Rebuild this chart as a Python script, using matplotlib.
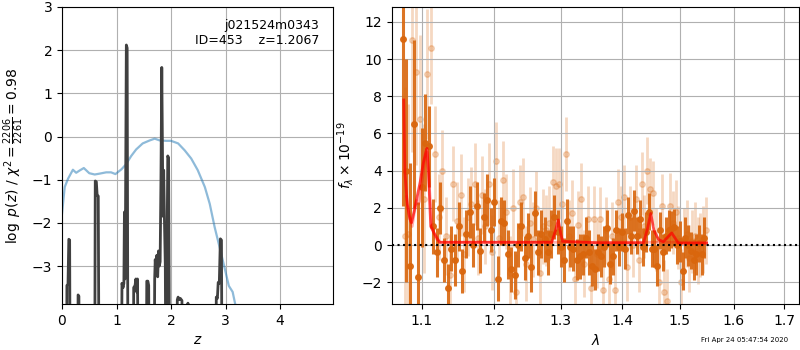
import matplotlib
matplotlib.use("Agg")
import matplotlib.pyplot as plt
from matplotlib.ticker import FixedLocator, FixedFormatter, NullLocator

# --- p(z) panel ---
pz_z = [0.00, 0.085, 0.09, 0.11, 0.125, 0.14, 0.15, 0.29, 0.295, 0.31, 0.315,
        0.60, 0.61, 0.63, 0.645, 0.665, 0.68,
        1.09, 1.10, 1.12, 1.135, 1.145, 1.155, 1.165, 1.18, 1.195, 1.21,
        1.31, 1.315, 1.34, 1.355, 1.37, 1.385, 1.40,
        1.545, 1.555, 1.575, 1.59, 1.60,
        1.69, 1.70, 1.71, 1.725, 1.74, 1.755, 1.77, 1.785, 1.80, 1.815, 1.83,
        1.845, 1.855, 1.865, 1.88, 1.895, 1.905, 1.925, 1.94, 1.955, 1.975,
        2.10, 2.115, 2.13, 2.15, 2.17, 2.20, 2.215, 2.305, 2.31, 2.315,
        2.82, 2.83, 2.85, 2.865, 2.885, 2.905, 2.925, 2.935, 4.97]
pz_log = [-6, -6, -3.45, -3.42, -2.38, -2.40, -6, -6, -3.67, -3.70, -6,
          -6, -1.03, -1.05, -1.37, -1.38, -6,
          -6, -3.40, -3.50, -3.40, -1.75, -3.30, -1.80, 2.12, 2.05, -6,
          -6, -3.50, -3.45, -3.30, -3.60, -3.30, -6,
          -6, -3.35, -3.35, -3.45, -6,
          -6, -3.30, -2.85, -3.20, -2.75, -3.25, -2.65, -3.00, -2.90, -1.00, 1.60,
          -0.70, -1.85, -0.78, -2.00, -3.00, -6, -3.00, -0.45, -0.50, -6,
          -6, -3.78, -3.72, -3.78, -3.75, -3.80, -6, -6, -3.86, -6,
          -6, -3.72, -3.75, -3.38, -3.40, -2.37, -2.40, -6, -6]

chi_z = [0.00, 0.05, 0.11, 0.20, 0.26, 0.32, 0.40, 0.50, 0.60, 0.69, 0.81, 0.90,
         0.98, 1.09, 1.17, 1.27, 1.36, 1.48, 1.61, 1.70, 1.79, 1.91, 2.00, 2.13,
         2.25, 2.37, 2.49, 2.62, 2.71, 2.80, 2.89, 2.98, 3.06, 3.13, 3.18, 3.25]
chi_val = [-1.79, -1.17, -0.98, -0.77, -0.84, -0.79, -0.73, -0.85, -0.88, -0.86,
           -0.83, -0.83, -0.87, -0.76, -0.65, -0.45, -0.30, -0.16, -0.09, -0.05,
           -0.09, -0.10, -0.10, -0.16, -0.32, -0.51, -0.78, -1.17, -1.56, -2.10,
           -2.56, -3.03, -3.46, -3.60, -3.90, -4.50]

# --- spectrum panel, orient A (dark) ---
wave_a = [1.075, 1.080, 1.085, 1.090, 1.095, 1.100, 1.105, 1.110, 1.115, 1.120,
          1.125, 1.130, 1.135, 1.140, 1.145, 1.150, 1.155, 1.160, 1.165, 1.170,
          1.175, 1.180, 1.185, 1.190, 1.195, 1.200, 1.205, 1.210, 1.215, 1.220,
          1.225, 1.230, 1.235, 1.240, 1.245, 1.250, 1.255, 1.260, 1.265, 1.270,
          1.275, 1.280, 1.285, 1.290, 1.295, 1.300, 1.305, 1.310, 1.315, 1.320,
          1.325, 1.330, 1.335, 1.340, 1.345, 1.350, 1.355, 1.360, 1.365, 1.370,
          1.375, 1.380, 1.385, 1.390, 1.395, 1.400, 1.405, 1.410, 1.415, 1.420,
          1.425, 1.430, 1.435, 1.440, 1.445, 1.450, 1.455, 1.460, 1.465, 1.470,
          1.475, 1.480, 1.485, 1.490, 1.495, 1.500, 1.505, 1.510, 1.515, 1.520,
          1.525, 1.530, 1.535, 1.540, 1.545]
flux_a = [11.1, 4.0, -1.1, 6.5, -1.7, 3.1, 5.5, 5.3, 1.0, -0.4,
          2.0, -0.8, -2.3, -0.2, -0.8, 1.0, -1.4, 0.6, 1.8, 0.0,
          2.1, -0.3, 1.5, 2.4, 0.8, 2.3, -1.8, 1.3, 1.2, -0.5,
          -1.3, -1.6, 0.0, 1.0, -0.7, 0.5, -1.2, 1.7, -0.4, 0.6,
          0.3, -0.4, 0.6, 1.5, 0.7, -0.1, -0.8, 1.3, -0.1, -0.2,
          -0.8, -0.6, -0.5, 0.4, -0.4, -1.1, -1.3, -0.4, -0.6, -0.1,
          0.9, -1.0, -0.6, 0.8, -0.1, 0.7, -0.2, 1.6, 0.5, 1.85,
          0.5, 1.4, -0.1, 0.7, 1.8, -0.2, -0.2, -1.1, 0.8, -0.4,
          0.5, 0.8, 0.85, 0.95, 0.0, 0.2, -1.4, 0.4, 0.0, -0.3,
          -0.8, -0.5, 0.1, -0.5, 0.4]
err_a = [9.0, 6.0, 5.5, 4.5, 4.0, 3.2, 2.6, 2.2, 1.5, 1.3,
         1.4, 1.2, 1.3, 1.2, 1.4, 1.3, 1.2, 1.3, 1.4, 1.2,
         1.3, 1.2, 1.3, 1.4, 1.2, 1.3, 1.2, 1.3, 1.2, 1.3,
         1.2, 1.3, 1.2, 1.3, 1.2, 1.2, 1.3, 1.2, 1.2, 1.3,
         1.2, 1.2, 1.3, 1.2, 1.2, 1.1, 1.2, 1.2, 1.1, 1.2,
         1.1, 1.2, 1.1, 1.1, 1.2, 1.1, 1.1, 1.0, 1.1, 1.1,
         1.0, 1.1, 1.0, 1.1, 1.0, 1.0, 1.1, 1.0, 1.0, 1.1,
         1.0, 1.0, 1.0, 1.1, 1.0, 1.0, 1.0, 1.1, 1.0, 1.0,
         1.0, 1.1, 1.0, 1.0, 1.0, 1.1, 1.0, 1.1, 1.1, 1.0,
         1.1, 1.1, 1.0, 1.1, 1.1]

# --- spectrum panel, orient B (light) ---
wave_b = [1.0775, 1.0825, 1.0875, 1.0925, 1.0975, 1.1025, 1.1075, 1.1125, 1.1175, 1.1225,
          1.1275, 1.1325, 1.1375, 1.1425, 1.1475, 1.1525, 1.1575, 1.1625, 1.1675, 1.1725,
          1.1775, 1.1825, 1.1875, 1.1925, 1.1975, 1.2025, 1.2075, 1.2125, 1.2175, 1.2225,
          1.2275, 1.2325, 1.2375, 1.2425, 1.2475, 1.2525, 1.2575, 1.2625, 1.2675, 1.2725,
          1.2775, 1.2825, 1.2875, 1.2925, 1.2975, 1.3025, 1.3075, 1.3125, 1.3175, 1.3225,
          1.3275, 1.3325, 1.3375, 1.3425, 1.3475, 1.3525, 1.3575, 1.3625, 1.3675, 1.3725,
          1.3775, 1.3825, 1.3875, 1.3925, 1.3975, 1.4025, 1.4075, 1.4125, 1.4175, 1.4225,
          1.4275, 1.4325, 1.4375, 1.4425, 1.4475, 1.4525, 1.4575, 1.4625, 1.4675, 1.4725,
          1.4775, 1.4825, 1.4875, 1.4925, 1.4975, 1.5025, 1.5075, 1.5125, 1.5175, 1.5225,
          1.5275, 1.5325, 1.5375, 1.5425, 1.5475]
flux_b = [0.5, 0.6, 11.0, 9.3, 6.8, 2.5, 9.2, 10.6, 4.9, 1.5,
          4.0, 0.5, -1.6, 3.3, 1.3, 2.7, -0.5, 1.5, 2.2, 3.3,
          0.4, 2.7, 1.0, 3.3, -0.4, 4.5, 0.4, 3.5, 1.8, -1.5,
          2.0, -2.5, 2.3, 2.6, -1.0, 1.2, 0.3, 2.0, -1.5, 1.0,
          0.8, 1.2, 3.4, 3.2, 3.3, 2.2, 4.9, 0.5, 1.7, -1.8,
          1.1, 2.5, -1.0, 1.4, -2.3, 1.4, -0.5, 1.4, -2.4, 0.8,
          -1.8, 0.5, -2.4, 2.3, 1.5, 2.6, -1.2, 1.5, 0.0, 2.5,
          -0.8, 3.3, 1.0, 4.0, 3.0, 2.8, 0.3, -2.0, 2.1, -2.5,
          -3.0, 2.1, 1.2, 1.8, 0.4, -2.0, 0.3, 0.6, -0.7, 0.2,
          0.5, -0.3, 0.0, 0.3, 0.8]
err_b = [8.0, 7.0, 6.0, 5.0, 4.5, 4.0, 3.5, 3.0, 2.6, 2.3,
         2.2, 2.1, 2.2, 2.0, 2.1, 2.2, 2.0, 2.1, 2.0, 2.2,
         2.0, 2.1, 2.0, 2.2, 2.0, 2.1, 2.0, 2.1, 2.0, 2.0,
         2.1, 2.0, 2.0, 2.1, 2.0, 1.9, 2.0, 2.0, 1.9, 2.0,
         1.9, 2.0, 1.9, 2.0, 1.9, 1.9, 2.0, 1.9, 1.8, 1.9,
         1.8, 1.9, 1.8, 1.8, 1.9, 1.8, 1.8, 1.7, 1.8, 1.8,
         1.7, 1.8, 1.7, 1.8, 1.7, 1.7, 1.8, 1.7, 1.7, 1.8,
         1.7, 1.7, 1.7, 1.8, 1.7, 1.7, 1.7, 1.8, 1.7, 1.7,
         1.7, 1.8, 1.7, 1.7, 1.7, 1.8, 1.7, 1.8, 1.8, 1.7,
         1.8, 1.8, 1.7, 1.8, 1.8]

# --- best-fit models ---
model_wave_a = [1.0765, 1.078, 1.081, 1.0845, 1.0866, 1.090, 1.094, 1.098, 1.102,
                1.1055, 1.107, 1.109, 1.1105, 1.112, 1.117, 1.124, 1.200, 1.286,
                1.292, 1.2962, 1.300, 1.303, 1.360, 1.436, 1.443, 1.4485, 1.454,
                1.462, 1.4706, 1.479, 1.4855, 1.492, 1.4974, 1.549]
model_a = [7.8, 3.9, 2.2, 1.4, 1.2, 1.8, 2.6, 3.4, 4.4,
           5.0, 5.2, 4.0, 2.4, 1.0, 0.6, 0.15, 0.15, 0.15,
           0.8, 1.35, 0.6, 0.2, 0.12, 0.12, 0.9, 1.7, 0.8,
           0.3, 0.18, 0.45, 0.65, 0.35, 0.1, 0.1]
model_wave_b = [1.080, 1.084, 1.0875, 1.0905, 1.093, 1.096, 1.100, 1.104, 1.107,
                1.110, 1.114, 1.118, 1.124, 1.549]
model_b = [2.6, 1.5, 1.0, 1.8, 2.4, 2.2, 3.2, 4.6, 5.0, 3.2, 1.0, 0.4, 0.15, 0.15]

lam_ticks = [1.1, 1.2, 1.3, 1.4, 1.5, 1.6, 1.7]

ORANGE = (0.85, 0.40, 0.05)

fig = plt.figure(figsize=(8, 3.5), dpi=100)

# p(z)
ax = fig.add_axes([0.0775, 0.1314, 0.3387, 0.8486])
ax.plot(chi_z, chi_val, color='#1f77b4', alpha=0.5, lw=1.6, zorder=2)
ax.plot(pz_z, pz_log, color='0.25', lw=2, zorder=3)
ax.set_xlim(0, 4.97)
ax.set_ylim(-3.88, 3)
ax.set_xticks([0, 1, 2, 3, 4])
ax.set_yticks([-3, -2, -1, 0, 1, 2, 3])
ax.grid(True, zorder=0)
ax.set_xlabel(r'$z$')
ax.set_ylabel(r'$\log\ p(z)$' + ' / ' + r'$\chi^2=\frac{2206}{2261}=0.98$')
ax.text(0.95, 0.96, 'j021524m0343\nID=453    z=1.2067', ha='right', va='top',
        transform=ax.transAxes, fontsize=9)

# spectrum
axs = fig.add_axes([0.4896, 0.1314, 0.5092, 0.8486])
axs.errorbar(wave_b, flux_b, yerr=err_b, color=ORANGE, alpha=0.25, marker='o',
             ms=4, linestyle='None', elinewidth=2, zorder=1)
axs.errorbar(wave_a, flux_a, yerr=err_a, color=ORANGE, alpha=0.9, marker='o',
             ms=4, linestyle='None', elinewidth=2.2, zorder=2)
axs.plot(model_wave_b, model_b, color='r', alpha=0.3, lw=2, zorder=3)
axs.plot(model_wave_a, model_a, color='r', alpha=0.7, lw=2, zorder=4)
axs.axhline(0, color='k', linestyle=':', lw=1.5, zorder=5)
axs.set_xscale('log')
axs.set_xlim(1.061, 1.731)
axs.set_ylim(-3.17, 12.8)
axs.xaxis.set_major_locator(FixedLocator(lam_ticks))
axs.xaxis.set_major_formatter(FixedFormatter([f'{t:.1f}' for t in lam_ticks]))
axs.xaxis.set_minor_locator(NullLocator())
axs.set_yticks([-2, 0, 2, 4, 6, 8, 10, 12])
axs.grid(True, zorder=0)
axs.set_xlabel(r'$\lambda$')
axs.set_ylabel(r'$f_\lambda\times10^{-19}$')

fig.text(0.985, 0.02, 'Fri Apr 24 05:47:54 2020', ha='right', va='bottom', fontsize=5)

fig.savefig('out.png', dpi=100)
